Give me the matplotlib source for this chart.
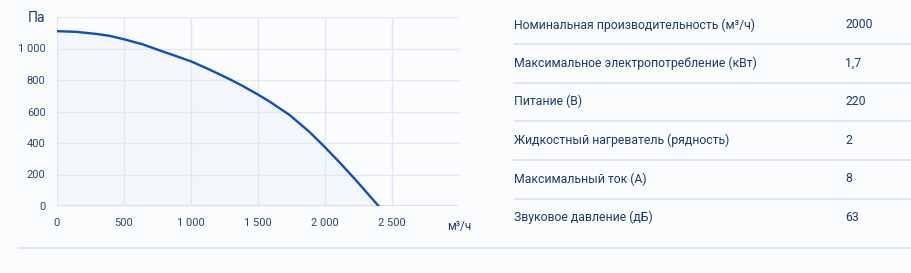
import numpy as np
import matplotlib.pyplot as plt
from matplotlib.lines import Line2D

# fan curve (air flow m3/h -> pressure Pa)
flow = [0, 143, 292, 391, 500, 639, 738, 862, 1000, 1135, 1283, 1383,
        1506, 1586, 1735, 1883, 1995, 2106, 2230, 2400]
pressure = [1110, 1106, 1093, 1081, 1059, 1027, 997, 960, 919, 868, 808, 764,
            705, 664, 579, 472, 378, 280, 165, 0]

x_ticks = [0, 500, 1000, 1500, 2000, 2500, 3000]
x_labels = ["0", "500", "1 000", "1 500", "2 000", "2 500", "м³/ч"]
y_ticks = [0, 200, 400, 600, 800, 1000, 1200]
y_labels = ["0", "200", "400", "600", "800", "1 000", "Па"]

# spec table
spec_names = [
    "Номинальная производительность (м³/ч)",
    "Максимальное электропотребление (кВт)",
    "Питание (В)",
    "Жидкостный нагреватель (рядность)",
    "Максимальный ток (А)",
    "Звуковое давление (дБ)",
]
spec_values = ["2000", "1,7", "220", "2", "8", "63"]

bg = "#fbfcfe"
text_col = "#1d3c6e"
line_col = "#0b4fc4"
grid_col = "#e4e7ee"
sep_col = "#dde3ec"

plt.rcParams['font.family'] = ['Roboto', 'DejaVu Sans']

W, H = 911, 273
fig = plt.figure(figsize=(W / 100, H / 100), dpi=100, facecolor=bg)

# axes in pixel coordinates
left, right, top, bottom = 56.7, 459, 17, 206
ax = fig.add_axes([left / W, 1 - bottom / H, (right - left) / W, (bottom - top) / H])
ax.set_facecolor(bg)

ax.fill_between(flow, pressure, 0, color="#f3f6fb", zorder=1)
ax.plot(flow, pressure, color=line_col, lw=1.7, zorder=3, solid_joinstyle="round")

ax.set_xlim(0, 3000)
ax.set_ylim(0, 1200)
ax.set_xticks(x_ticks)
ax.set_xticklabels(x_labels)
ax.set_yticks(y_ticks)
ax.set_yticklabels(y_labels)
ax.set_xticks([3000], minor=True)

ax.grid(True, color=grid_col, lw=1, zorder=0)
for s in ax.spines.values():
    s.set_visible(False)
ax.axhline(0, color="#d6dbe4", lw=1.2, zorder=2)
ax.axvline(0, color="#dfe3ea", lw=1.2, zorder=2)

ax.tick_params(axis="both", which="major", length=0, labelsize=8, labelcolor="#2a4676")
ax.tick_params(axis="x", which="major", pad=9)
ax.tick_params(axis="y", which="major", pad=8)
ax.tick_params(axis="x", which="minor", length=5, color="#d6dbe4", width=1)

# unit labels a bit larger
ax.get_yticklabels()[-1].set_fontsize(10)
ax.get_yticklabels()[-1].set_color(text_col)
ax.get_xticklabels()[-1].set_fontsize(8.5)
ax.get_xticklabels()[-1].set_y(-0.01)
ax.get_xticklabels()[-1].set_color(text_col)

# table on the right
row_y = [25, 63.3, 101.7, 140.5, 179, 217.7]
sep_y = [44.3, 83, 121.3, 160.3, 198.7]
for name, val, yy in zip(spec_names, spec_values, row_y):
    fig.text(514 / W, 1 - yy / H, name, ha="left", va="center", fontsize=8.8, color=text_col)
    fig.text(845 / W, 1 - yy / H, val, ha="left", va="center", fontsize=8.8, color=text_col)
for yy in sep_y:
    fig.add_artist(Line2D([514 / W, 1], [1 - yy / H, 1 - yy / H], color=sep_col, lw=1.2))
fig.add_artist(Line2D([19 / W, 1], [1 - 248 / H, 1 - 248 / H], color=sep_col, lw=1.2))

fig.savefig("out.png", dpi=100, facecolor=bg)
